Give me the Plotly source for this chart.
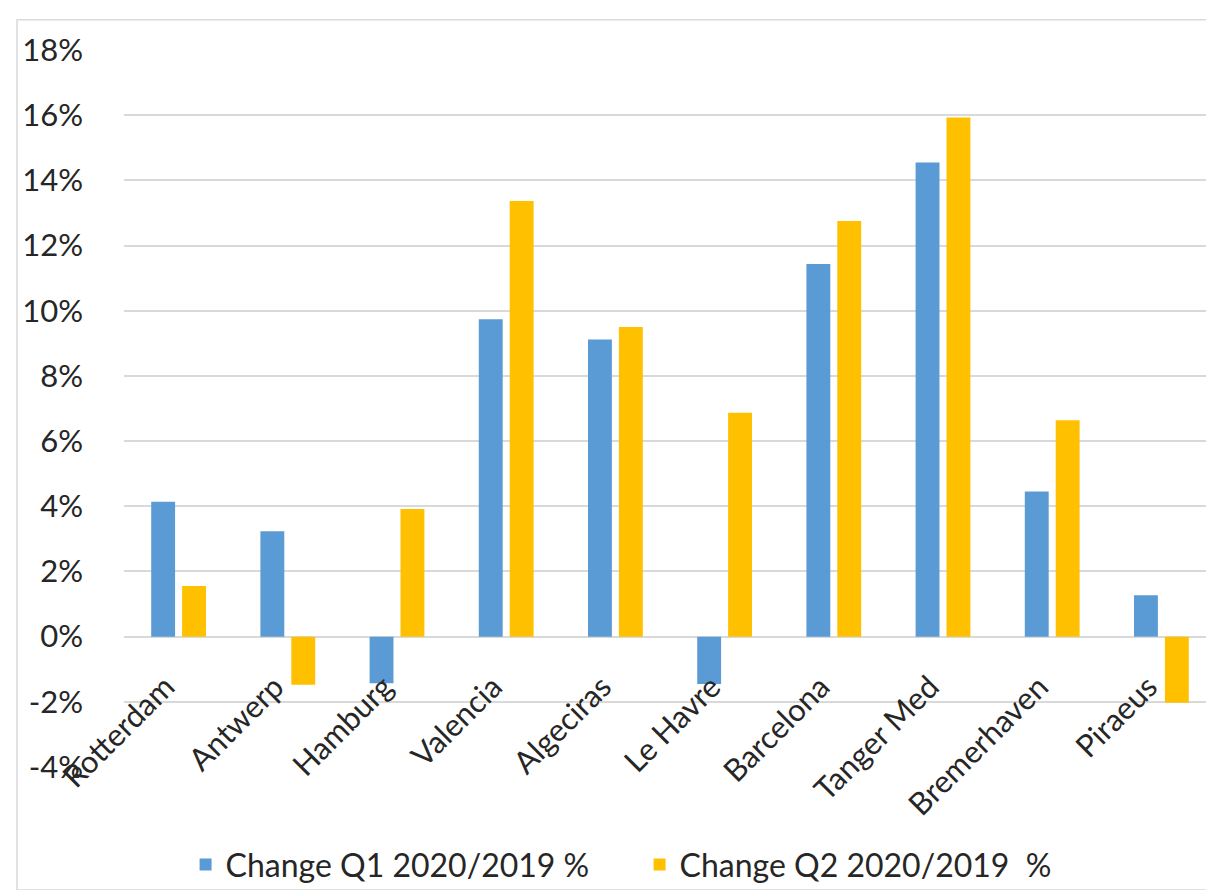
import plotly.graph_objects as go

ports = ["Rotterdam", "Antwerp", "Hamburg", "Valencia", "Algeciras",
         "Le Havre", "Barcelona", "Tanger Med", "Bremerhaven", "Piraeus"]
q1_change = [4.14, 3.23, -1.43, 9.74, 9.12, -1.45, 11.43, 14.55, 4.45, 1.27]
q2_change = [1.55, -1.48, 3.92, 13.37, 9.50, 6.87, 12.75, 15.93, 6.64, -2.03]
series_names = ["Change Q1 2020/2019 %", "Change Q2 2020/2019\u00a0\u00a0%"]
y_tick_values = [-4, -2, 0, 2, 4, 6, 8, 10, 12, 14, 16, 18]
y_tick_labels = ["-4%", "-2%", "0%", "2%", "4%", "6%", "8%", "10%", "12%", "14%", "16%", "18%"]

FONT = "Lato, 'Open Sans', sans-serif"
TEXT = "#262626"

fig = go.Figure()
fig.add_trace(go.Bar(x=ports, y=q1_change, name=series_names[0],
                     marker=dict(color="#5B9BD5", line=dict(width=0))))
fig.add_trace(go.Bar(x=ports, y=q2_change, name=series_names[1],
                     marker=dict(color="#FFC000", line=dict(width=0))))

W, H = 1214, 890
L, R, T, B = 116, 6, 41.5, 125
fig.update_layout(
    width=W, height=H,
    margin=dict(l=L, r=R, t=T, b=B, pad=0),
    paper_bgcolor="white", plot_bgcolor="white",
    barmode="group", bargap=0.434, bargroupgap=0.227,
    font=dict(family=FONT, color=TEXT, size=30),
    showlegend=True,
    legend=dict(orientation="h", x=0.0564, xanchor="left", y=-0.098, yanchor="top",
                font=dict(size=32, color=TEXT), bgcolor="rgba(0,0,0,0)",
                traceorder="normal", entrywidth=409),
)
fig.update_yaxes(range=[-4, 18], tickvals=y_tick_values, ticktext=y_tick_labels,
                 showgrid=True, gridcolor="#D9D9D9", gridwidth=1.5,
                 zeroline=False, showline=False, ticks="",
                 tickfont=dict(size=31, color=TEXT), ticklabelstandoff=40)
fig.update_xaxes(anchor="free", position=4 / 22, showgrid=False, showline=False,
                 zeroline=False, ticks="", tickangle=-45,
                 ticklabelstandoff=25, ticklabelshift=-13,
                 tickfont=dict(size=31, color=TEXT))

fig.add_shape(type="rect", xref="paper", yref="paper",
              x0=(9 - L) / (W - L - R), x1=(1213 - L) / (W - L - R),
              y0=-(889 - (H - B)) / (H - T - B), y1=((H - B) - 11) / (H - T - B),
              line=dict(color="#D9D9D9", width=1.5), fillcolor="rgba(0,0,0,0)", layer="below")

fig.write_html("out.html")
